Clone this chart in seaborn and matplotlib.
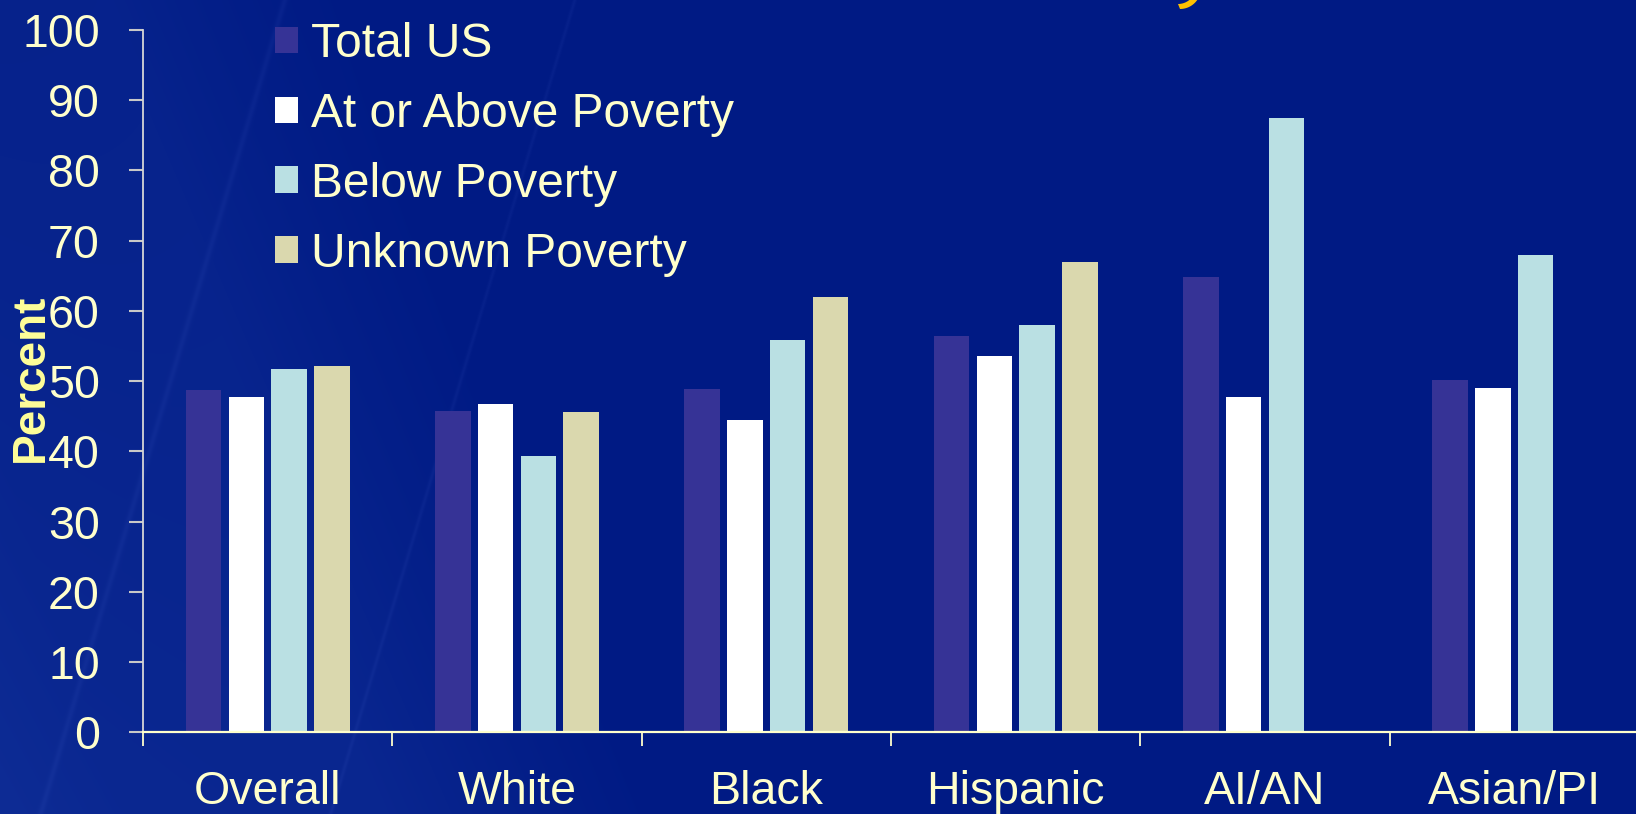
import numpy as np
import pandas as pd
import matplotlib
matplotlib.use("Agg")
import matplotlib.pyplot as plt
from matplotlib.patches import Polygon
import seaborn as sns

# Share of children by group and poverty status (percent)
categories = ["Overall", "White", "Black", "Hispanic", "AI/AN", "Asian/PI"]
groups = ["Total US", "At or Above Poverty", "Below Poverty", "Unknown Poverty"]
total_us = [48.7, 45.8, 48.9, 56.4, 64.9, 50.2]
above_poverty = [47.8, 46.7, 44.5, 53.6, 47.8, 49.0]
below_poverty = [51.8, 39.3, 55.8, 58.0, 87.4, 67.9]
unknown_poverty = [52.2, 45.6, 62.0, 66.9, None, None]
y_ticks = [0, 10, 20, 30, 40, 50, 60, 70, 80, 90, 100]

series = [total_us, above_poverty, below_poverty, unknown_poverty]
rows = []
for g, vals in zip(groups, series):
    for c, v in zip(categories, vals):
        if v is not None:
            rows.append({"category": c, "group": g, "value": v})
df = pd.DataFrame(rows)

palette = {
    "Total US": "#363396",
    "At or Above Poverty": "#FFFFFF",
    "Below Poverty": "#BAE0E3",
    "Unknown Poverty": "#DAD8AE",
}
text_color = "#FFFFCC"

sns.set_theme(style="white")
plt.rcParams["font.family"] = ["Liberation Sans", "DejaVu Sans"]

W, H = 1636, 814
fig = plt.figure(figsize=(W / 100, H / 100), dpi=100)

# Slide-style blue background with a lighter lower-left wash and faint diagonal streaks
bg = fig.add_axes([0, 0, 1, 1], zorder=-10)
yy, xx = np.mgrid[0:H, 0:W]
xn = xx / W
yn = 1 - yy / H  # 0 at bottom
dark = np.array([0x00, 0x1A, 0x84]) / 255
light = np.array([0x0E, 0x2C, 0x95]) / 255
t = np.clip(1.0 - (xn * 2.2 + yn * 0.6), 0, 1) ** 1.5
band = np.clip(1 - np.abs((xn * W * 1.0 + yn * H * 0.33) - 380) / 260, 0, 1) * 0.35
t = np.clip(t + band, 0, 1)
img = dark[None, None, :] * (1 - t[..., None]) + light[None, None, :] * t[..., None]
for x0, w in [(40, 3), (330, 2)]:
    d = np.abs(xx - (x0 + (H - yy) * 0.30))
    img += (np.exp(-(d / w) ** 2) * 0.025)[..., None]
bg.imshow(np.clip(img, 0, 1), aspect="auto", extent=[0, 1, 0, 1], origin="upper")
bg.set_axis_off()

# Small gold crescent from the slide heading ornament running off the top edge
th = np.radians(np.linspace(0, 90, 30))
outer = np.column_stack([1180 + 21 * np.cos(th), -12 + 21 * np.sin(th)])
inner = np.column_stack([1178 + 18 * np.cos(th), -14 + 18 * np.sin(th)])[::-1]
pts = np.vstack([outer, inner])
pts_fig = np.column_stack([pts[:, 0] / W, 1 - pts[:, 1] / H])
fig.patches.append(Polygon(pts_fig, closed=True, transform=fig.transFigure,
                           facecolor="#FFC000", edgecolor="none", zorder=-5))

left = 143 / W
bottom = 1 - 732.3 / H
ax = fig.add_axes([left, bottom, (1639 - 143) / W, (732.3 - 30) / H])
ax.patch.set_alpha(0)

sns.barplot(
    data=df, x="category", y="value", hue="group",
    order=categories, hue_order=groups, palette=palette, saturation=1,
    width=0.686, gap=0.17, errorbar=None, linewidth=0, ax=ax,
)

ax.set_xlim(-0.5, len(categories) - 0.5)
ax.set_ylim(0, 100)
ax.set_yticks(y_ticks)
ax.set_yticklabels([str(v) for v in y_ticks])
ax.set_xlabel("")
ax.set_ylabel("")

for s in ["top", "right"]:
    ax.spines[s].set_visible(False)
ax.spines["left"].set_color("#D6D6D6")
ax.spines["left"].set_linewidth(1.3)
ax.spines["bottom"].set_color(text_color)
ax.spines["bottom"].set_linewidth(1.6)

ax.tick_params(axis="y", which="major", direction="out", length=10, width=1.5,
               color="#C8C8C8", labelsize=33.5, labelcolor=text_color, pad=21, left=True)
ax.set_xticks(np.arange(len(categories)))
ax.set_xticks(np.arange(-0.5, len(categories)), minor=True)
ax.tick_params(axis="x", which="major", length=0, labelsize=33.5,
               labelcolor=text_color, pad=27)
ax.tick_params(axis="x", which="minor", direction="out", length=10, width=1.3,
               color=text_color, bottom=True)

leg = ax.legend(
    loc="upper left", bbox_to_anchor=(275 / W, 1 - 22 / H),
    bbox_transform=fig.transFigure, frameon=False, fontsize=34.5,
    handlelength=0.48, handleheight=0.48, handletextpad=0.28,
    labelspacing=0.52, borderpad=0, borderaxespad=0,
)
for txt in leg.get_texts():
    txt.set_color(text_color)

fig.text(31 / W, 1 - 378 / H, "Percent", rotation=90, ha="center", va="center",
         fontsize=33, fontweight="bold", color="#FFFF99")

fig.savefig("out.png", dpi=100)
